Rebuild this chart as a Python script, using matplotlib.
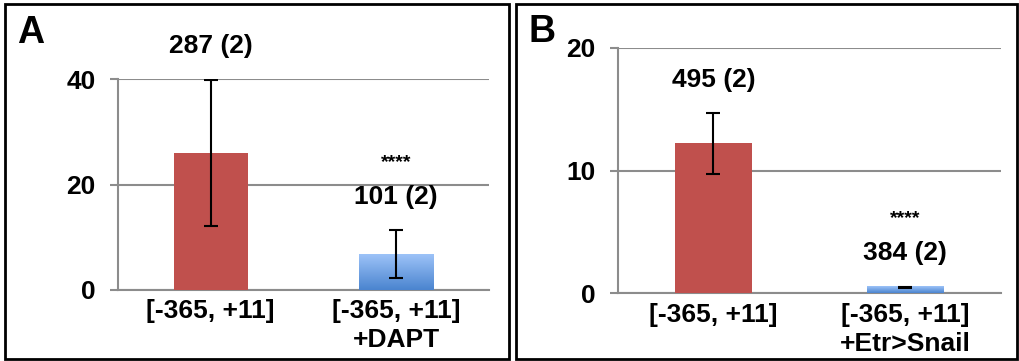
import matplotlib
matplotlib.use("Agg")
import matplotlib.pyplot as plt
import numpy as np
from matplotlib.patches import Rectangle
from matplotlib.colors import LinearSegmentedColormap

plt.rcParams['font.family'] = ['Liberation Sans', 'DejaVu Sans']
plt.rcParams['font.weight'] = 'bold'

# ---- data ----
cats_A = ["[-365, +11]", "[-365, +11]\n+DAPT"]
vals_A = [26.0, 6.8]
errs_A = [13.9, 4.5]
notes_A = ["287 (2)", "101 (2)"]
stars_A = ["", "****"]
yticks_A = [0, 20, 40]

cats_B = ["[-365, +11]", "[-365, +11]\n+Etr>Snail"]
vals_B = [12.2, 0.5]
errs_B = [2.45, 0.03]
notes_B = ["495 (2)", "384 (2)"]
stars_B = ["", "****"]
yticks_B = [0, 10, 20]

W, H = 1019, 361
fig = plt.figure(figsize=(W / 100, H / 100), dpi=100)

RED = "#C0504D"
blue_cmap = LinearSegmentedColormap.from_list("b", ["#4A84CF", "#9DC3F8"])
GRID = "#8C8C8C"
FS = 19


def px_axes(x0, x1, ytop, ybot):
    return fig.add_axes([x0 / W, 1 - ybot / H, (x1 - x0) / W, (ybot - ytop) / H])


def panel(ax, cats, vals, errs, notes, stars, yticks, letter, letter_xy):
    x = np.arange(len(cats))
    ax.set_xlim(-0.5, len(cats) - 0.5)
    ax.set_ylim(yticks[0], yticks[-1])
    bw = 0.40
    bars = ax.bar(x, vals, width=bw, color=[RED, "none"], zorder=3, linewidth=0)
    # gradient for second bar
    b = bars[1]
    grad = np.linspace(0, 1, 256).reshape(-1, 1)
    ax.imshow(grad, cmap=blue_cmap, origin="lower", aspect="auto",
              extent=(b.get_x(), b.get_x() + b.get_width(), 0, b.get_height()), zorder=3)
    ax.set_xlim(-0.5, len(cats) - 0.5)
    ax.set_ylim(yticks[0], yticks[-1])
    ax.errorbar(x, vals, yerr=errs, fmt="none", ecolor="black", elinewidth=1.5,
                capsize=5, capthick=1.5, zorder=4)
    for xi, v, e, n, s in zip(x, vals, errs, notes, stars):
        ax.annotate(n, (xi, v + e), xytext=(0, 24), textcoords="offset points",
                    ha="center", va="center", fontsize=FS, fontweight="bold",
                    annotation_clip=False)
        if s:
            ax.annotate(s, (xi, v + e), xytext=(0, 49), textcoords="offset points",
                        ha="center", va="center", fontsize=14, fontweight="bold",
                        annotation_clip=False)
    ax.set_yticks(yticks)
    ax.set_yticklabels([str(t) for t in yticks], fontsize=FS, fontweight="bold")
    ax.set_xticks(x)
    ax.set_xticklabels(cats, fontsize=FS, fontweight="bold", linespacing=1.25)
    ax.tick_params(axis="x", length=0, pad=7)
    ax.tick_params(axis="y", length=6, width=1.5, color=GRID, pad=10)
    ax.yaxis.grid(True, color=GRID, linewidth=1.5, zorder=0)
    ax.set_axisbelow(True)
    for sp in ["top", "right"]:
        ax.spines[sp].set_visible(False)
    ax.spines["left"].set_color(GRID)
    ax.spines["left"].set_linewidth(1.5)
    ax.spines["bottom"].set_color(GRID)
    ax.spines["bottom"].set_linewidth(1.5)
    ax.patch.set_alpha(0)
    fig.text(letter_xy[0] / W, 1 - letter_xy[1] / H, letter, fontsize=27,
             fontweight="bold", ha="center", va="center")


axA = px_axes(118, 489, 79.3, 289.7)
panel(axA, cats_A, vals_A, errs_A, notes_A, stars_A, yticks_A, "A", (31, 33))

axB = px_axes(617.7, 1000.7, 47.7, 293.3)
panel(axB, cats_B, vals_B, errs_B, notes_B, stars_B, yticks_B, "B", (542, 32))

# panel borders
for (x0, x1) in [(5, 509), (516, 1017)]:
    fig.patches.append(Rectangle((x0 / W, 1 - 359 / H), (x1 - x0) / W, (359 - 4) / H,
                                 transform=fig.transFigure, fill=False,
                                 edgecolor="black", linewidth=2))

fig.savefig("out.png", dpi=100)
